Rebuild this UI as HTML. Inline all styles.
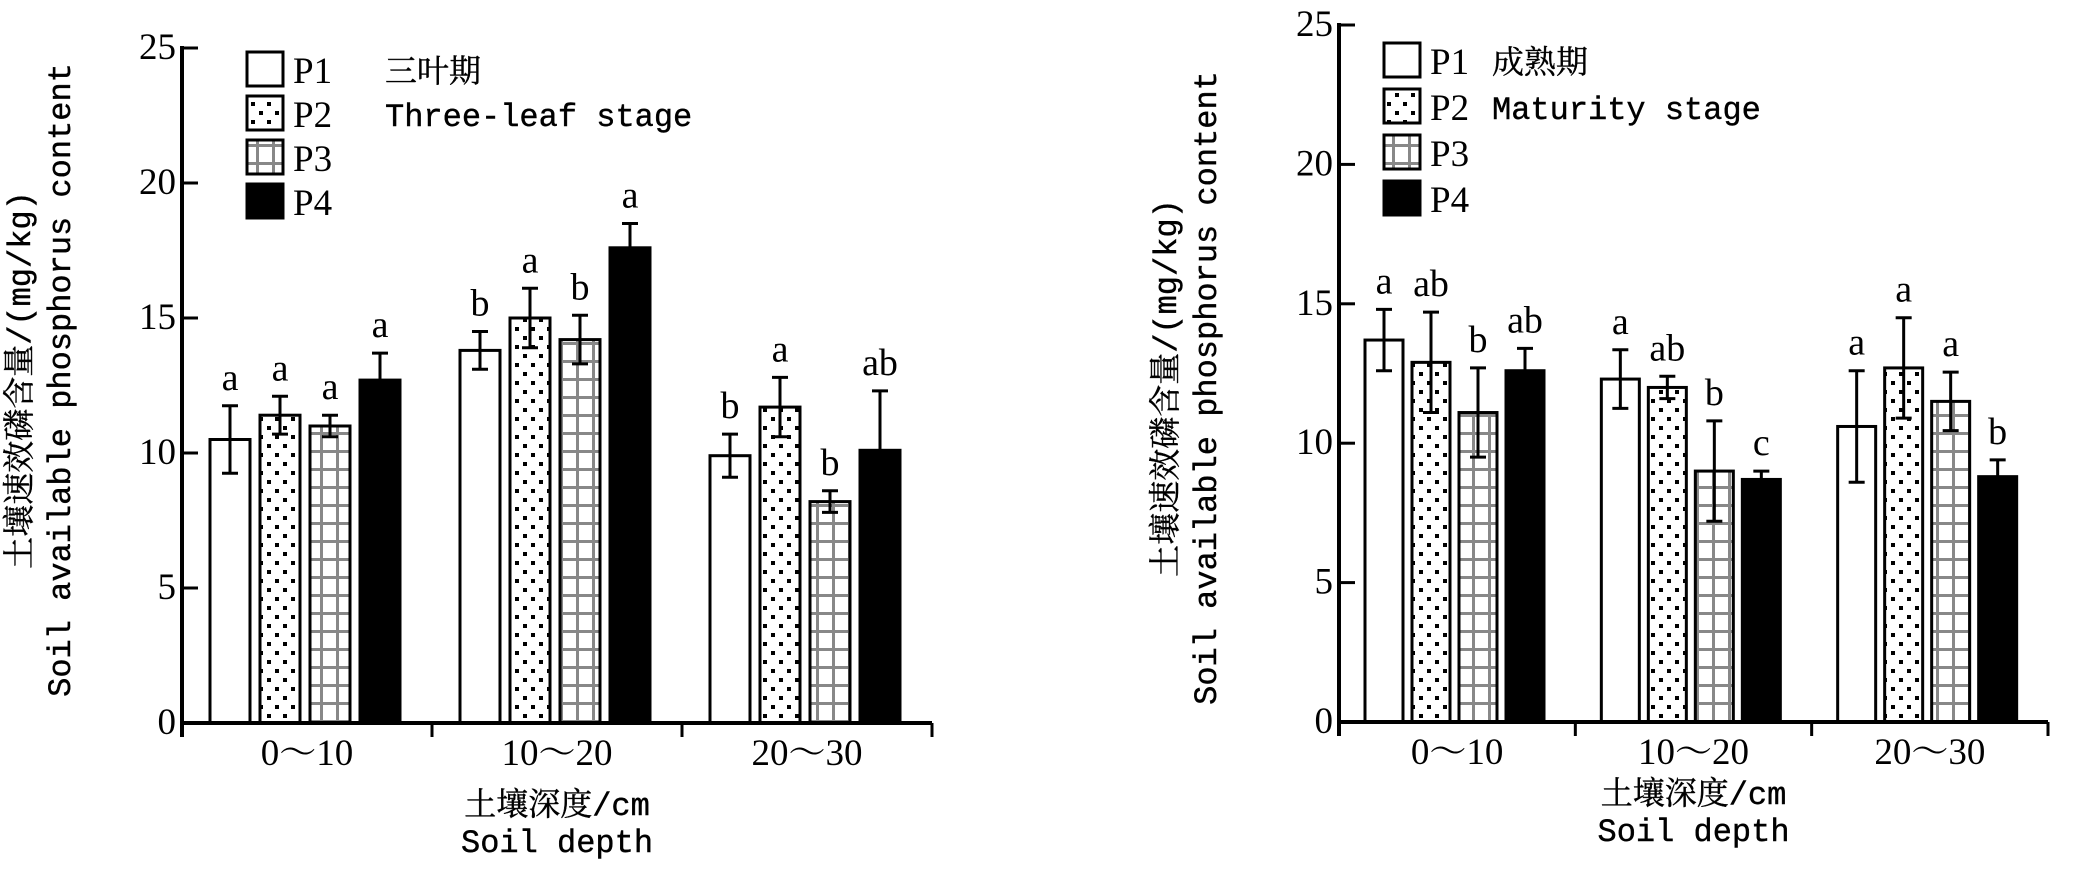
<!DOCTYPE html>
<html><head><meta charset="utf-8"><style>
html,body{margin:0;padding:0;background:#fff;}
svg{display:block;}
text{fill:#000;}
.tk{font-family:"Liberation Serif","Noto Serif CJK SC",serif;font-size:37px;}
.lb{font-family:"Liberation Mono","Noto Serif CJK SC",monospace;font-size:32px;stroke:#000;stroke-width:0.4px;}
.let{font-family:"Liberation Serif",serif;font-size:38px;}
</style></head><body>
<svg id="chart" width="2085" height="882" viewBox="0 0 2085 882" xmlns="http://www.w3.org/2000/svg">
<defs>
<pattern id="dots" width="16" height="18" patternUnits="userSpaceOnUse">
<rect width="16" height="18" fill="#fff"/>
<rect x="3" y="3" width="4" height="4" fill="#000"/>
<rect x="11" y="12" width="4" height="4" fill="#000"/>
</pattern>
<pattern id="grid" width="16" height="18" patternUnits="userSpaceOnUse">
<rect width="16" height="18" fill="#fff"/>
<rect x="0" y="0" width="16" height="3" fill="#888"/>
<rect x="0" y="0" width="3" height="18" fill="#888"/>
</pattern>
</defs>
<g id="left"></g>
<g id="right"></g>
</svg>
<script>
const categories = ["0～10", "10～20", "20～30"];
const series = ["P1", "P2", "P3", "P4"];
const yTicks = [0, 5, 10, 15, 20, 25];
// Three-leaf stage
const leftValues = [[10.5, 13.8, 9.9], [11.4, 15.0, 11.7], [11.0, 14.2, 8.2], [12.7, 17.6, 10.1]];
const leftErrors = [[1.25, 0.7, 0.8], [0.7, 1.1, 1.1], [0.4, 0.9, 0.4], [1.0, 0.9, 2.2]];
const leftLetters = [["a", "b", "b"], ["a", "a", "a"], ["a", "b", "b"], ["a", "a", "ab"]];
// Maturity stage
const rightValues = [[13.7, 12.3, 10.6], [12.9, 12.0, 12.7], [11.1, 9.0, 11.5], [12.6, 8.7, 8.8]];
const rightErrors = [[1.1, 1.05, 2.0], [1.8, 0.4, 1.8], [1.6, 1.8, 1.05], [0.8, 0.3, 0.6]];
const rightLetters = [["a", "a", "a"], ["ab", "ab", "a"], ["b", "b", "a"], ["ab", "c", "b"]];

const NS = "http://www.w3.org/2000/svg";
const fills = ["#fff", "url(#dots)", "url(#grid)", "#000"];
function mk(parent, tag, attrs, txt) {
  const e = document.createElementNS(NS, tag);
  for (const k in attrs) e.setAttribute(k, attrs[k]);
  if (txt !== undefined) e.textContent = txt;
  parent.appendChild(e);
  return e;
}
function draw(g, cfg) {
  const yMax = 25;
  const yS = v => cfg.y0 - (cfg.y0 - cfg.y25) * v / yMax;
  const gw = (cfg.xEnd - cfg.x0) / categories.length;
  const xB = (ci, si) => cfg.x0 + ci * gw + cfg.off + si * cfg.pitch;
  for (let si = 0; si < series.length; si++) {
    for (let ci = 0; ci < categories.length; ci++) {
      const v = cfg.values[si][ci], e = cfg.errors[si][ci];
      const x = xB(ci, si), y = yS(v);
      const r = mk(g, "rect", {x: x, y: y, width: cfg.bw, height: cfg.y0 - y, fill: fills[si], stroke: "#000", "stroke-width": 3});
      
      
      const cx = x + cfg.bw / 2, yt = yS(v + e), yb = yS(v - e);
      const eb = mk(g, "path", {d: `M${cx},${yt}V${yb}M${cx - 8},${yt}H${cx + 8}M${cx - 8},${yb}H${cx + 8}`, stroke: "#000", "stroke-width": 3, fill: "none"});
      
      
      const lt = mk(g, "text", {x: cx, y: yt - 16, "text-anchor": "middle", class: "let"}, cfg.letters[si][ci]);
      
      
    }
  }
  const ax = mk(g, "path", {d: `M${cfg.x0},${cfg.y25 - 2}V${cfg.y0 + 14}M${cfg.x0},${cfg.y0}H${cfg.xEnd}`, stroke: "#000", "stroke-width": 4, fill: "none"});
  
  
  yTicks.forEach(t => {
    const y = yS(t);
    mk(g, "line", {x1: cfg.x0, x2: cfg.x0 + 16, y1: y, y2: y, stroke: "#000", "stroke-width": 3});
    const tl = mk(g, "text", {x: cfg.x0 - 6, y: y + 11, "text-anchor": "end", class: "tk"}, t);
    
    
  });
  for (let ci = 1; ci <= categories.length; ci++) {
    const x = cfg.x0 + ci * gw;
    mk(g, "line", {x1: x, x2: x, y1: cfg.y0, y2: cfg.y0 + 14, stroke: "#000", "stroke-width": 3});
  }
  categories.forEach((c, ci) => {
    const cl = mk(g, "text", {x: cfg.x0 + (ci + 0.5) * gw, y: cfg.catY, "text-anchor": "middle", class: "tk"}, c);
    
    
  });
  series.forEach((s, si) => {
    const y = cfg.legY + si * cfg.legPitch;
    const lr = mk(g, "rect", {x: cfg.legX, y: y, width: 36, height: 34, fill: fills[si], stroke: "#000", "stroke-width": 3});
    
    
    const lt = mk(g, "text", {x: cfg.legX + 46, y: y + 31, class: "tk"}, s);
    
    
  });
  const s1 = mk(g, "text", {x: cfg.stageX, y: cfg.legY + 30, class: "lb"}, cfg.stageCn);
  
  
  const s2 = mk(g, "text", {x: cfg.stageX, y: cfg.legY + cfg.legPitch + 30, class: "lb"}, cfg.stageEn);
  
  
  const cx = (cfg.x0 + cfg.xEnd) / 2;
  const xt1 = mk(g, "text", {x: cx, y: cfg.xtY, "text-anchor": "middle", class: "lb"}, "土壤深度/cm");
  
  
  const xt2 = mk(g, "text", {x: cx, y: cfg.xtY + 37, "text-anchor": "middle", class: "lb"}, "Soil depth");
  
  
  const yt1 = mk(g, "text", {x: 0, y: 0, "text-anchor": "middle", class: "lb", transform: `translate(${cfg.ytX + 10},${cfg.ytY}) rotate(-90)`}, "土壤速效磷含量/(mg/kg)");
  
  
  const yt2 = mk(g, "text", {x: 0, y: 0, "text-anchor": "middle", class: "lb", transform: `translate(${cfg.ytX + 50},${cfg.ytY}) rotate(-90)`}, "Soil available phosphorus content");
  
  
}
draw(document.getElementById("left"), {
  x0: 182, xEnd: 932, y0: 723, y25: 48, off: 28, pitch: 50, bw: 40,
  values: leftValues, errors: leftErrors, letters: leftLetters,
  catY: 765, legX: 247, legY: 52, legPitch: 44, stageX: 385,
  stageCn: "三叶期", stageEn: "Three-leaf stage",
  xtY: 815, ytX: 20, ytY: 380
});
draw(document.getElementById("right"), {
  x0: 1339, xEnd: 2048, y0: 722, y25: 25, off: 26, pitch: 47, bw: 38,
  values: rightValues, errors: rightErrors, letters: rightLetters,
  catY: 764, legX: 1384, legY: 43, legPitch: 46, stageX: 1492,
  stageCn: "成熟期", stageEn: "Maturity stage",
  xtY: 804, ytX: 1166, ytY: 388
});
</script>
</body></html>
